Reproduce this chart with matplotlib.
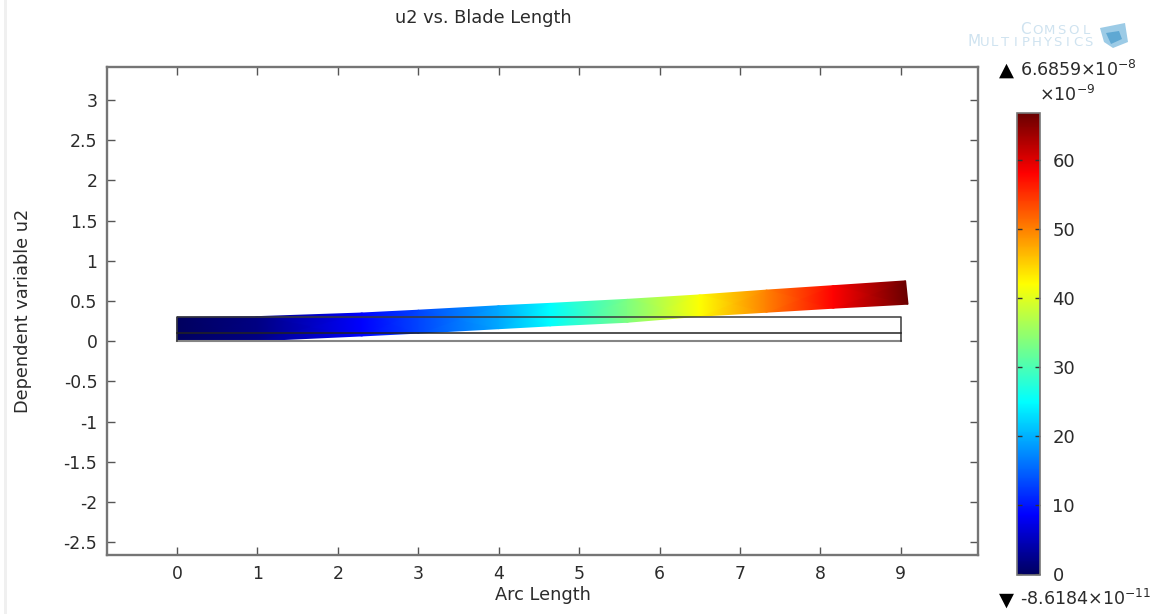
# plot.py
import numpy as np
import matplotlib
matplotlib.use("Agg")
import matplotlib.pyplot as plt
from matplotlib.colors import Normalize, LinearSegmentedColormap
from matplotlib.cm import ScalarMappable
from matplotlib.patches import Polygon, Rectangle

plt.rcParams['axes.unicode_minus'] = False

# bordes de la pala deformada
x_lower = [0.0, 1.0, 2.3, 3.0, 4.0, 4.64, 5.6, 6.5, 7.33, 8.16, 9.09]
y_lower = [0.0, 0.005, 0.065, 0.1, 0.155, 0.19, 0.235, 0.31, 0.36, 0.41, 0.46]
x_upper = [0.0, 1.0, 2.3, 3.0, 4.0, 4.64, 5.6, 6.5, 7.33, 8.16, 9.06]
y_upper = [0.3, 0.305, 0.35, 0.385, 0.44, 0.47, 0.52, 0.575, 0.635, 0.69, 0.75]
u2_values = [0.0, 2.0, 8.7, 13.0, 19.5, 25.0, 33.5, 42.0, 50.0, 58.0, 66.86]

# contorno sin deformar
blade_x = [0, 0, 9, 9]
blade_y = [0, 0.3, 0.3, 0]
bottom_x = [0, 9]
bottom_y = [0, 0]
mid_x = [0, 9]
mid_y = [0.1, 0.1]

x_ticks = [0, 1, 2, 3, 4, 5, 6, 7, 8, 9]
y_ticks = [-2.5, -2, -1.5, -1, -0.5, 0, 0.5, 1, 1.5, 2, 2.5, 3]
y_labels = ["-2.5", "-2", "-1.5", "-1", "-0.5", "0", "0.5", "1", "1.5", "2", "2.5", "3"]
cbar_ticks = [0, 10, 20, 30, 40, 50, 60]
u2_min = -0.086184
u2_max = 66.859

W, H = 1157, 614
GRAY = "#757575"
TXT = "#2b2b2b"

rainbow = LinearSegmentedColormap.from_list("rainbow_comsol", [
    (0.0, "#00005f"), (0.13, "#0000ff"), (0.375, "#00ffff"),
    (0.63, "#ffff00"), (0.87, "#ff0000"), (1.0, "#6a0000")], N=512)


def px_axes(left, top, right, bottom):
    return [left/W, 1 - bottom/H, (right-left)/W, (bottom-top)/H]


def spaced_text(fig, text, x0, step, y, first_size, size, color):
    # letras separadas a mano porque el logo es muy ancho
    x = x0
    for i, ch in enumerate(text):
        fs = first_size if i == 0 else size
        fig.text(x/W, 1-y/H, ch, color=color, fontsize=fs, ha="center", va="baseline")
        x += step


def draw_logo(fig):
    c = "#cfe3f0"
    spaced_text(fig, "COMSOL", 1025, 12.2, 34, 11, 9.5, c)
    spaced_text(fig, "MULTIPHYSICS", 974, 10.4, 46, 11, 9.5, c)
    cube = [(1100, 28), (1125, 23), (1128, 42), (1113, 48), (1104, 42)]
    inner = [(1106, 33), (1119, 31), (1122, 39), (1111, 44)]
    fig.add_artist(Polygon([(x/W, 1-y/H) for x, y in cube], closed=True,
                           transform=fig.transFigure, fc="#9ccbe6", ec="none"))
    fig.add_artist(Polygon([(x/W, 1-y/H) for x, y in inner], closed=True,
                           transform=fig.transFigure, fc="#5fa8d3", ec="none"))


def main():
    fig = plt.figure(figsize=(W/100, H/100), dpi=100)
    # franja gris a la izquierda de la captura
    fig.add_artist(Rectangle((4/W, 0), 3/W, 1, transform=fig.transFigure,
                             fc="#f0f0f0", ec="none"))
    ax = fig.add_axes(px_axes(107, 67, 978, 555))

    xx = np.array([x_lower, x_upper])
    yy = np.array([y_lower, y_upper])
    cc = np.array([u2_values, u2_values])
    norm = Normalize(u2_min, u2_max)
    ax.pcolormesh(xx, yy, cc, cmap=rainbow, norm=norm, shading="gouraud", zorder=2)

    ax.plot(bottom_x, bottom_y, color="#858585", lw=1.5, zorder=3)
    ax.plot(blade_x, blade_y, color="#3a3a3a", lw=1.1, zorder=3)
    ax.plot(mid_x, mid_y, color="#222222", lw=1.1, zorder=3)

    ax.set_xlim(-0.87, 9.96)
    ax.set_ylim(-2.66, 3.41)
    ax.set_xticks(x_ticks)
    ax.set_yticks(y_ticks)
    ax.set_yticklabels(y_labels)
    ax.tick_params(direction="in", length=5.8, width=1, color="#555555", labelcolor=TXT,
                   labelsize=12.4, top=True, right=True, pad=7)
    for s in ax.spines.values():
        s.set_color(GRAY)
        s.set_linewidth(1.7)

    fig.text(483/W, 1-18/H, "u2 vs. Blade Length", ha="center", va="center",
             fontsize=12.8, color=TXT)
    fig.text(543/W, 1-595/H, "Arc Length", ha="center", va="center",
             fontsize=12.8, color=TXT)
    fig.text(23.5/W, 1-311/H, "Dependent variable u2", rotation=90, ha="center",
             va="center", fontsize=12.8, color=TXT)

    # barra de color
    cax = fig.add_axes(px_axes(1017, 113, 1040, 575))
    cb = fig.colorbar(ScalarMappable(norm=norm, cmap=rainbow), cax=cax)
    cb.set_ticks(cbar_ticks)
    cb.ax.tick_params(direction="in", length=3.5, width=1, color="#333333", left=True,
                      right=True, labelsize=13, labelcolor=TXT, pad=9)
    cb.outline.set_edgecolor("#777777")
    cb.outline.set_linewidth(1.2)

    fig.text(1006/W, 1-70/H, "▲", ha="center", va="center", fontsize=14, color="black")
    fig.text(1020/W, 1-70/H, r"6.6859×10$^{-8}$", ha="left", va="center",
             fontsize=12.6, color=TXT)
    fig.text(1039/W, 1-95/H, r"×10$^{-9}$", ha="left", va="center",
             fontsize=12.6, color=TXT)
    fig.text(1006/W, 1-600/H, "▼", ha="center", va="center", fontsize=14, color="black")
    fig.text(1020/W, 1-599/H, r"-8.6184×10$^{-11}$", ha="left", va="center",
             fontsize=12.6, color=TXT)

    draw_logo(fig)
    fig.savefig("out.png", dpi=100)


if __name__ == "__main__":
    main()
